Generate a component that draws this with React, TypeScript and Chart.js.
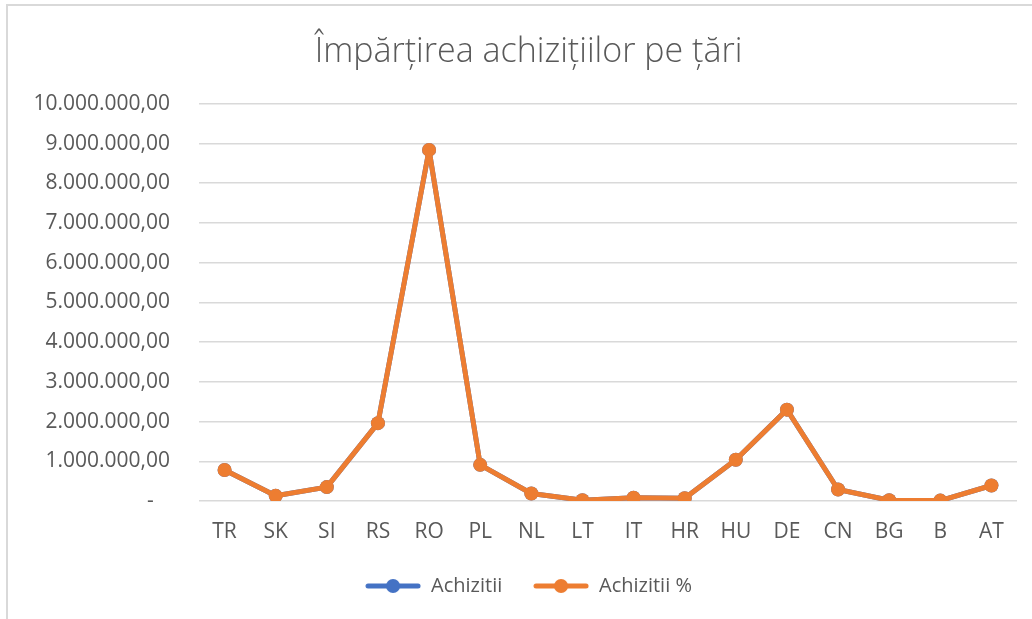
import React, { useEffect, useRef } from "react";
import { Chart, registerables } from "chart.js";

Chart.register(...registerables);

const categories = ["TR", "SK", "SI", "RS", "RO", "PL", "NL", "LT", "IT", "HR", "HU", "DE", "CN", "BG", "B", "AT"];
const achizitii = [780000, 130000, 350000, 1960000, 8840000, 910000, 190000, 20000, 80000, 70000, 1040000, 2300000, 290000, 20000, 10000, 390000];
const achizitiiPct = [780000, 130000, 350000, 1960000, 8840000, 910000, 190000, 20000, 80000, 70000, 1040000, 2300000, 290000, 20000, 10000, 390000];
const seriesNames = ["Achizitii", "Achizitii %"];
const seriesColors = ["#4472C4", "#ED7D31"];
const titleText = "Împărțirea achizițiilor pe țări";
const yMin = 0;
const yMax = 10000000;
const yStep = 1000000;

const FONT = "'Open Sans', 'Liberation Sans', sans-serif";
const TEXT_COLOR = "#595959";

function fmt(v: number): string {
  if (v === 0) return "-   ";
  const s = Math.round(v).toString().replace(/\B(?=(\d{3})+(?!\d))/g, ".");
  return s + ",00";
}

function legendImage(color: string): HTMLCanvasElement {
  const c = document.createElement("canvas");
  c.width = 56;
  c.height = 16;
  const ctx = c.getContext("2d")!;
  ctx.strokeStyle = color;
  ctx.lineWidth = 5;
  ctx.lineCap = "round";
  ctx.beginPath();
  ctx.moveTo(3, 8);
  ctx.lineTo(53, 8);
  ctx.stroke();
  ctx.fillStyle = color;
  ctx.beginPath();
  ctx.arc(28, 8, 7, 0, Math.PI * 2);
  ctx.fill();
  return c;
}

// Shift title and legend so they are centred like the original (Excel centres on the whole frame)
const shiftBlocks = {
  id: "shiftBlocks",
  afterLayout(chart: any) {
    for (const b of [chart.titleBlock, chart.legend]) {
      if (b) {
        b.left += 20;
        b.right += 20;
      }
    }
  },
};

export default function App() {
  const ref = useRef<HTMLCanvasElement | null>(null);

  useEffect(() => {
    if (!ref.current) return;
    const images = seriesColors.map(legendImage);
    const common = {
      borderWidth: 5,
      pointRadius: 7,
      pointHoverRadius: 7,
      pointBorderWidth: 0,
      tension: 0,
      borderJoinStyle: "round" as const,
      borderCapStyle: "round" as const,
    };
    const chart = new Chart(ref.current, {
      type: "line",
      data: {
        labels: categories,
        datasets: [
          {
            label: seriesNames[0],
            data: achizitii,
            borderColor: seriesColors[0],
            backgroundColor: seriesColors[0],
            order: 1,
            ...common,
          },
          {
            label: seriesNames[1],
            data: achizitiiPct,
            borderColor: seriesColors[1],
            backgroundColor: seriesColors[1],
            order: 0,
            ...common,
          },
        ],
      },
      plugins: [shiftBlocks],
      options: {
        animation: false,
        responsive: false,
        layout: { padding: { left: 0, right: 15, top: 0, bottom: 13 } },
        plugins: {
          title: {
            display: true,
            text: titleText,
            color: TEXT_COLOR,
            font: { family: FONT, size: 34, weight: "300" as any, lineHeight: 1.2 },
            padding: { top: 32, bottom: 31 },
          },
          legend: {
            position: "bottom",
            labels: {
              usePointStyle: true,
              pointStyleWidth: 56,
              padding: 10,
              color: TEXT_COLOR,
              font: { family: FONT, size: 20 },
              generateLabels: (ch: any) =>
                ch.data.datasets.map((ds: any, i: number, arr: any[]) => ({
                  text: i < arr.length - 1 ? ds.label + "    " : ds.label,
                  pointStyle: images[i],
                  fillStyle: seriesColors[i],
                  strokeStyle: seriesColors[i],
                  lineWidth: 0,
                  hidden: false,
                  datasetIndex: i,
                  fontColor: TEXT_COLOR,
                })),
            },
          },
          tooltip: { enabled: false },
        },
        scales: {
          x: {
            offset: true,
            grid: { display: false, drawTicks: false },
            border: { display: false },
            ticks: { color: TEXT_COLOR, font: { family: FONT, size: 21 }, padding: 18 },
            afterFit: (s: any) => {
              s.height = 65;
            },
          },
          y: {
            min: yMin,
            max: yMax,
            grid: { color: "#d9d9d9", lineWidth: 1.5, drawTicks: false },
            border: { display: false },
            ticks: {
              stepSize: yStep,
              color: TEXT_COLOR,
              font: { family: FONT, size: 21 },
              padding: 29,
              callback: (v: any) => fmt(Number(v)),
            },
            afterFit: (s: any) => {
              s.width = 199;
            },
          },
        },
      },
    });
    return () => chart.destroy();
  }, []);

  return (
    <div style={{ position: "fixed", left: 0, top: 0, width: 1032, height: 619, background: "#fff" }}>
      <div
        style={{
          position: "absolute",
          left: 6,
          top: 4,
          width: 1040,
          height: 640,
          borderLeft: "2px solid #d9d9d9",
          borderTop: "2px solid #d9d9d9",
        }}
      />
      <canvas ref={ref} width={1032} height={619} style={{ position: "absolute", left: 0, top: 0 }} />
    </div>
  );
}
